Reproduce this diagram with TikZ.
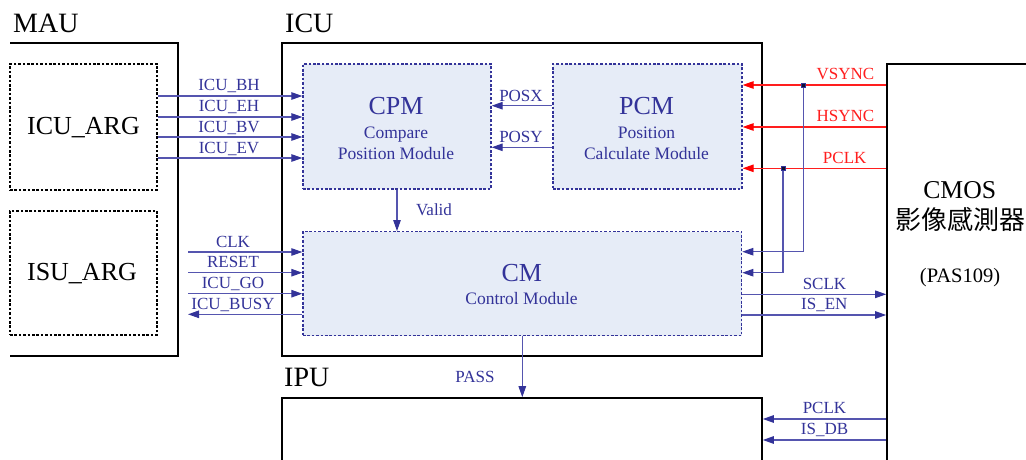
\documentclass[tikz,border=0pt]{standalone}
\usepackage{fontspec}
\setmainfont{Liberation Serif}
\newfontfamily\cjkfont{Noto Sans CJK TC}
\usetikzlibrary{arrows.meta}
\definecolor{lineblue}{RGB}{85,85,175}
\definecolor{darkblue}{RGB}{51,51,153}
\definecolor{modfill}{RGB}{230,236,247}
\definecolor{sigred}{RGB}{255,30,30}
\begin{document}
\begin{tikzpicture}[x=1pt,y=-1pt,
  outer/.style={draw=black,line width=1.6pt},
  outerbox/.style={draw=black,line width=1.6pt,inner sep=0,rectangle},
  argbox/.style={draw=black,line width=1.3pt,dash pattern=on 2.6pt off 1.8pt,inner sep=0,rectangle},
  modbox/.style={draw=darkblue,fill=modfill,line width=1.3pt,dash pattern=on 2.6pt off 1.8pt,inner sep=0,rectangle},
  sig/.style={draw=lineblue,line width=1.1pt,-{Triangle[length=11pt,width=7.5pt,color=darkblue]}},
  redsig/.style={draw=sigred,line width=1.1pt,-{Triangle[length=11pt,width=7.5pt,color=red]}},
  junc/.style={rectangle,fill=black!70!darkblue,draw=darkblue,line width=0.4pt,minimum size=4.5pt,inner sep=0},
  bigtitle/.style={font=\fontsize{28}{30}\selectfont,anchor=base west,inner sep=0},
  argtxt/.style={font=\fontsize{26}{28}\selectfont,anchor=base,inner sep=0},
  modtitle/.style={font=\fontsize{26}{28}\selectfont,text=darkblue,anchor=base,inner sep=0},
  modsub/.style={font=\fontsize{17.5}{19}\selectfont,text=darkblue,anchor=base,inner sep=0},
  lbl/.style={font=\fontsize{17}{19}\selectfont,text=darkblue,anchor=base,inner sep=0},
  redlbl/.style={font=\fontsize{17}{19}\selectfont,text=sigred,anchor=base,inner sep=0},
]
\useasboundingbox (0,0) rectangle (1026,460);
\clip (0,0) rectangle (1026,460);
\fill[white] (0,0) rectangle (1026,460);

% titles
\node[bigtitle] (tmau) at (13,32.3) {MAU};
\node[bigtitle] (ticu) at (285,32.3) {ICU};
\node[bigtitle] (tipu) at (284,386) {IPU};

% outer boxes
\draw[outer] (10,43) -- (178,43) -- (178,356) -- (10,356);
\node[outerbox,minimum width=480pt,minimum height=313pt] (icu) at (522,199.5) {};
\node[outerbox,minimum width=480pt,minimum height=82pt] (ipu) at (522,439) {};
\node[outerbox,minimum width=173pt,minimum height=416pt] (cmos) at (973.5,272) {};

% ARG boxes
\node[argbox,minimum width=147pt,minimum height=126pt] (icuarg) at (83.5,127) {};
\node[argtxt] (ticuarg) at (83.5,135) {ICU\_ARG};
\node[argbox,minimum width=147pt,minimum height=124pt] (isuarg) at (83.5,273) {};
\node[argtxt] (tisuarg) at (82,280.7) {ISU\_ARG};

% modules
\node[modbox,minimum width=188pt,minimum height=125pt] (cpm) at (397,126.5) {};
\node[modtitle] (tcpm) at (396,114) {CPM};
\node[modsub] (tcpm1) at (396,139) {Compare};
\node[modsub] (tcpm2) at (396,159.3) {Position Module};

\node[modbox,minimum width=189pt,minimum height=125pt] (pcm) at (647.5,126.5) {};
\node[modtitle] (tpcm) at (646.5,114) {PCM};
\node[modsub] (tpcm1) at (646.5,139) {Position};
\node[modsub] (tpcm2) at (646.5,159.3) {Calculate Module};

\node[modbox,minimum width=438.7pt,minimum height=104pt] (cm) at (522.3,283.7) {};
\node[modtitle] (tcm) at (521.8,281) {CM};
\node[modsub] (tcm1) at (521.5,304.3) {Control Module};

% CMOS text
\node[font=\fontsize{25.7}{28}\selectfont,anchor=base,inner sep=0] (tcmos) at (959.7,198.3) {CMOS};
\node[font=\fontsize{26}{28}\selectfont\cjkfont,anchor=base,inner sep=0] (tcmos2) at (960,229.5) {影像感測器};
\node[font=\fontsize{20.5}{22}\selectfont,anchor=base,inner sep=0] (tcmos3) at (960,282.3) {(PAS109)};

% ICU_ARG -> CPM
\draw[sig] (icuarg.east |- 0,96) -- (cpm.west |- 0,96);
\draw[sig] (icuarg.east |- 0,117) -- (cpm.west |- 0,117);
\draw[sig] (icuarg.east |- 0,137) -- (cpm.west |- 0,137);
\draw[sig] (icuarg.east |- 0,158) -- (cpm.west |- 0,158);
\node[lbl] (lbh) at (229,91) {ICU\_BH};
\node[lbl] (leh) at (229,111.5) {ICU\_EH};
\node[lbl] (lbv) at (229,132) {ICU\_BV};
\node[lbl] (lev) at (229,153) {ICU\_EV};

% PCM -> CPM
\draw[sig] (pcm.west |- 0,105.7) -- (cpm.east |- 0,105.7);
\draw[sig] (pcm.west |- 0,147.3) -- (cpm.east |- 0,147.3);
\node[lbl] (lposx) at (521,101) {POSX};
\node[lbl] (lposy) at (521,142.5) {POSY};

% Valid
\draw[sig] (cpm.south -| 397,0) -- (cm.north -| 397,0);
\node[lbl] (lvalid) at (434,215.5) {Valid};

% CM left signals
\coordinate (clkin) at (188,252);
\coordinate (rstin) at (188,272.7);
\coordinate (goin) at (188,293.7);
\coordinate (busyout) at (188,314.3);
\draw[sig] (clkin) -- (cm.west |- clkin);
\draw[sig] (rstin) -- (cm.west |- rstin);
\draw[sig] (goin) -- (cm.west |- goin);
\draw[sig] (cm.west |- busyout) -- (busyout);
\node[lbl] (lclk) at (233,247) {CLK};
\node[lbl] (lrst) at (233,267.7) {RESET};
\node[lbl] (lgo) at (233,288.7) {ICU\_GO};
\node[lbl] (lbusy) at (233,309.3) {ICU\_BUSY};

% CMOS -> PCM (red)
\draw[redsig] (cmos.west |- 0,85) -- (pcm.east |- 0,85);
\draw[redsig] (cmos.west |- 0,127) -- (pcm.east |- 0,127);
\draw[redsig] (cmos.west |- 0,168.3) -- (pcm.east |- 0,168.3);
\node[redlbl] (lvs) at (845.5,79.5) {VSYNC};
\node[redlbl] (lhs) at (845.5,121.7) {HSYNC};
\node[redlbl] (lpclk) at (844.7,163.3) {PCLK};

% taps to CM
\coordinate (j1) at (803.3,85);
\coordinate (j2) at (783,168.3);
\draw[sig] (j1) -- (j1 |- 0,251.7) -- (cm.east |- 0,251.7);
\draw[sig] (j2) -- (j2 |- 0,272.7) -- (cm.east |- 0,272.7);
\node[junc] (jn1) at (j1) {};
\node[junc] (jn2) at (j2) {};

% CM -> CMOS
\draw[sig] (cm.east |- 0,294.3) -- (cmos.west |- 0,294.3);
\draw[sig] (cm.east |- 0,315) -- (cmos.west |- 0,315);
\node[lbl] (lsclk) at (824.5,289.3) {SCLK};
\node[lbl] (lisen) at (824.3,309.5) {IS\_EN};

% CM -> IPU
\draw[sig] (cm.south) -- (cm.south |- ipu.north);
\node[lbl] (lpass) at (475,382.7) {PASS};

% CMOS -> IPU
\draw[sig] (cmos.west |- 0,419) -- (ipu.east |- 0,419);
\draw[sig] (cmos.west |- 0,440) -- (ipu.east |- 0,440);
\node[lbl] (lpclk2) at (824.5,413.5) {PCLK};
\node[lbl] (lisdb) at (824.5,434.7) {IS\_DB};
\end{tikzpicture}
\end{document}
